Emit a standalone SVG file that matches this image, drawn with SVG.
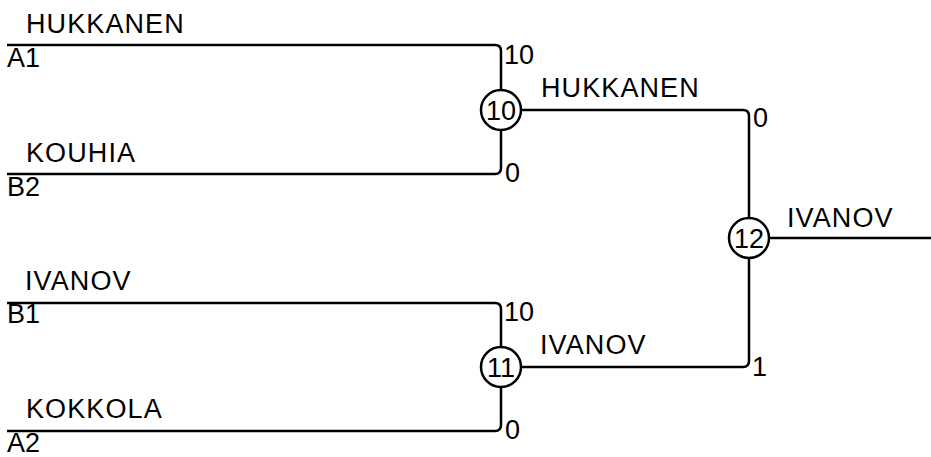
<svg xmlns="http://www.w3.org/2000/svg" width="931" height="457" viewBox="0 0 931 457">
<style>
text{font-family:"Liberation Sans",Arial,sans-serif;font-size:27px;fill:#000}
.n{letter-spacing:1.1px}
.c{text-anchor:middle}
.ln{fill:none;stroke:#000;stroke-width:2.5}
circle{fill:#fff;stroke:#000;stroke-width:2.5}
</style>
<rect width="931" height="457" fill="#fff"/>
<g id="connectors">
<path class="ln" d="M7,45 H495 Q501,45 501,51 V90"/>
<path class="ln" d="M501,130 V168 Q501,174 495,174 H7"/>
<path class="ln" d="M7,303 H495 Q501,303 501,309 V347"/>
<path class="ln" d="M501,387 V425 Q501,431 495,431 H7"/>
<path class="ln" d="M521,110 H743 Q749,110 749,116 V217"/>
<path class="ln" d="M749,259 V361 Q749,367 743,367 H521"/>
<path class="ln" d="M770,238 H931"/>
</g>
<g id="entry-a1"><text class="n" x="26" y="33">HUKKANEN</text><text x="7" y="67">A1</text></g>
<g id="entry-b2"><text class="n" x="26" y="162">KOUHIA</text><text x="7" y="196">B2</text></g>
<g id="entry-b1"><text class="n" x="25" y="290">IVANOV</text><text x="7" y="323">B1</text></g>
<g id="entry-a2"><text class="n" x="26" y="418">KOKKOLA</text><text x="7" y="452">A2</text></g>
<g id="node-10">
<circle cx="501" cy="110" r="20"/>
<text class="c" x="501" y="120">10</text>
<text x="504" y="64">10</text>
<text x="505" y="182">0</text>
<text class="n" x="541" y="97">HUKKANEN</text>
</g>
<g id="node-11">
<circle cx="501" cy="367" r="20"/>
<text class="c" x="501" y="377">11</text>
<text x="504" y="321">10</text>
<text x="505" y="439">0</text>
<text class="n" x="540" y="354">IVANOV</text>
</g>
<g id="node-12">
<circle cx="749" cy="238" r="20"/>
<text class="c" x="749" y="248">12</text>
<text x="753" y="127">0</text>
<text x="752" y="376">1</text>
<text class="n" x="787" y="227">IVANOV</text>
</g>
</svg>
